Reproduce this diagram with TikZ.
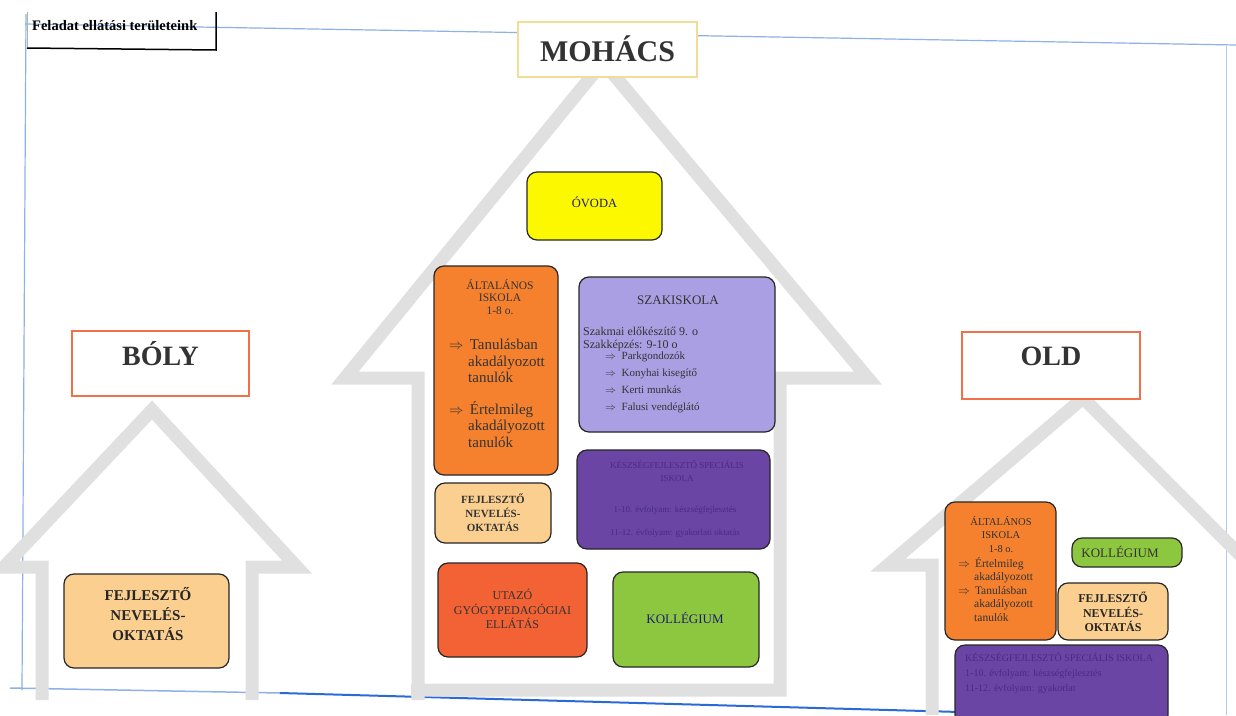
\documentclass[tikz,border=0pt]{standalone}
\usepackage{fontspec}
\setmainfont{Liberation Serif}
\definecolor{houseg}{HTML}{E0E0E0}
\definecolor{frameb}{HTML}{8FB2E4}
\definecolor{frameB}{HTML}{2A6AD8}
\definecolor{orangeA}{HTML}{F5812F}
\definecolor{lavA}{HTML}{AA9FE3}
\definecolor{purpA}{HTML}{6B45A3}
\definecolor{purpT}{HTML}{4A2A86}
\definecolor{peachA}{HTML}{FBCF8F}
\definecolor{redA}{HTML}{F26235}
\definecolor{greenA}{HTML}{8DC63F}
\definecolor{yellowA}{HTML}{FCF800}
\definecolor{navyT}{HTML}{1C1C70}
\definecolor{txtG}{HTML}{333333}
\definecolor{redB}{HTML}{F07048}
\definecolor{yelB}{HTML}{F2DC98}
\begin{document}
\begin{tikzpicture}[x=1pt,y=-1pt,
  house/.style={draw=houseg,line width=13pt,line join=miter},
  rbox/.style={draw=black!85,line width=1.2pt,rounded corners=10pt,inner sep=0pt},
  citybox/.style={draw=redB,line width=2pt,fill=white,inner sep=0pt},
  citytext/.style={font=\fontsize{28}{30}\selectfont\bfseries,text=black!80},
  smalltext/.style={inner sep=0pt,text=txtG,align=center},
  listtext/.style={inner sep=0pt,text=txtG,align=left,anchor=north west}
]
\useasboundingbox (0,0) rectangle (1236,715);
\fill[white] (0,0) rectangle (1236,715);
% frame of the page
\draw[frameb,line width=1.2pt] (25,24) -- (1236,45);
\draw[frameb,line width=1.2pt] (26,14) -- (22,690);
\draw[frameb!70,line width=1pt] (1226,46) -- (1226,715);
\draw[frameb,line width=1.5pt] (10,688) -- (280,693);
\draw[frameB,line width=2pt] (280,693) -- (960,712);
% houses
\draw[house] (418,700) -- (418,378) -- (345,378) -- (603,62) -- (868,378) -- (780,378) -- (780,690) -- (411,690);
\draw[house] (42,700) -- (42,567) -- (4,567) -- (152,410) -- (297,567) -- (252,567) -- (252,700);
\draw[house] (932,715) -- (932,565) -- (888,565) -- (1083,398) -- (1250,565);
% title box
\coordinate (tbnw) at (27,12);
\coordinate (tbne) at (216,12);
\coordinate (tbse) at (216,50);
\coordinate (tbsw) at (27,48);
\draw[black!30,line width=0.8pt] (tbnw) -- (tbsw);
\draw[black,line width=1.5pt] (tbne) -- (tbse) -- (tbsw);
\node[anchor=west,inner sep=0pt,font=\fontsize{14.5}{16}\selectfont\bfseries] (tt) at (32,26) {Feladat ellátási területeink};
% city boxes
\node[draw=yelB,line width=2pt,fill=white,minimum width=179pt,minimum height=55pt,inner sep=0pt] (moh) at (607.5,49.5) {};
\node[citytext,font=\fontsize{30}{32}\selectfont\bfseries] (moht) at (607.5,49) {MOHÁCS};
\node[citybox,minimum width=177pt,minimum height=65pt] (boly) at (160.5,363.5) {};
\node[citytext] (bolyt) at (160.5,354) {BÓLY};
\node[citybox,minimum width=178pt,minimum height=67pt] (old) at (1051,365.5) {};
\node[citytext] (oldt) at (1051,356) {OLD};
% Mohacs boxes
\node[rbox,fill=yellowA,minimum width=135pt,minimum height=68pt] (ovoda) at (594.5,206) {};
\node[smalltext,text=navyT,font=\fontsize{12.5}{14}\selectfont] (ovodat) at (594.5,202) {ÓVODA};

\node[rbox,fill=orangeA,minimum width=124pt,minimum height=209pt] (mai) at (496,370.5) {};
\node[smalltext,font=\fontsize{11.5}{12.5}\selectfont,anchor=north] (maih) at (500,279) {ÁLTALÁNOS\\ISKOLA\\1-8 o.};
\node[listtext,font=\fontsize{15}{16.5}\selectfont] (mail) at (449,339) {$\Rightarrow$\ \,Tanulásban\\\hspace*{19pt}akadályozott\\\hspace*{19pt}tanulók\\[15pt]$\Rightarrow$\ \,Értelmileg\\\hspace*{19pt}akadályozott\\\hspace*{19pt}tanulók};

\node[rbox,fill=lavA,minimum width=196pt,minimum height=155pt] (szak) at (677,354.5) {};
\node[smalltext,font=\fontsize{13}{15}\selectfont] (szakh) at (678,300) {SZAKISKOLA};
\node[listtext,font=\fontsize{12}{12.5}\selectfont] (szakl) at (583,327) {Szakmai előkészítő 9. o\\Szakképzés: 9-10 o};
\node[listtext,font=\fontsize{11}{17}\selectfont] (szakm) at (605,352) {$\Rightarrow$\ \ Parkgondozók\\$\Rightarrow$\ \ Konyhai kisegítő\\$\Rightarrow$\ \ Kerti munkás\\$\Rightarrow$\ \ Falusi vendéglátó};

\node[rbox,fill=purpA,minimum width=193pt,minimum height=99pt] (mpur) at (673.5,499.5) {};
\node[smalltext,text=purpT,font=\fontsize{9}{13}\selectfont] (mpurh) at (677,471) {KÉSZSÉGFEJLESZTŐ SPECIÁLIS\\ISKOLA};
\node[smalltext,text=purpT,font=\fontsize{9}{23}\selectfont] (mpurl) at (675,522) {1-10. évfolyam: készségfejlesztés\\11-12. évfolyam: gyakorlati oktatás};

\node[rbox,fill=peachA,minimum width=116pt,minimum height=60pt] (mfej) at (493,513) {};
\node[smalltext,font=\fontsize{11}{14}\selectfont\bfseries] (mfejt) at (493,513) {FEJLESZTŐ\\NEVELÉS-\\OKTATÁS};

\node[rbox,fill=redA,minimum width=149pt,minimum height=94pt] (utazo) at (512.5,610) {};
\node[smalltext,font=\fontsize{12}{14.5}\selectfont] (utazot) at (512.5,609) {UTAZÓ\\GYÓGYPEDAGÓGIAI\\ELLÁTÁS};

\node[rbox,fill=greenA,minimum width=146pt,minimum height=95pt] (koll) at (686,619.5) {};
\node[smalltext,text=navyT,font=\fontsize{13}{15}\selectfont] (kollt) at (685,618) {KOLLÉGIUM};

% Boly box
\node[rbox,fill=peachA,minimum width=165pt,minimum height=94pt] (bfej) at (146.5,621) {};
\node[smalltext,text=black!85,font=\fontsize{15}{20}\selectfont\bfseries] (bfejt) at (148,614) {FEJLESZTŐ\\NEVELÉS-\\OKTATÁS};

% Old boxes
\node[rbox,fill=orangeA,minimum width=111pt,minimum height=138pt] (oai) at (1000.5,571) {};
\node[smalltext,font=\fontsize{10.5}{13.5}\selectfont,anchor=north] (oaih) at (1001,516) {ÁLTALÁNOS\\ISKOLA\\1-8 o.};
\node[listtext,font=\fontsize{11.5}{13.5}\selectfont] (oail) at (958,557) {$\Rightarrow$\ \,Értelmileg\\\hspace*{16pt}akadályozott\\$\Rightarrow$\ \,Tanulásban\\\hspace*{16pt}akadályozott\\\hspace*{16pt}tanulók};

\node[rbox,fill=greenA,minimum width=110pt,minimum height=29pt] (okoll) at (1127,552.5) {};
\node[smalltext,font=\fontsize{13}{15}\selectfont] (okollt) at (1120,552) {KOLLÉGIUM};

\node[rbox,fill=peachA,minimum width=110pt,minimum height=57pt] (ofej) at (1113,611.5) {};
\node[smalltext,text=black!85,font=\fontsize{12}{14.5}\selectfont\bfseries] (ofejt) at (1113,612) {FEJLESZTŐ\\NEVELÉS-\\OKTATÁS};

\node[rbox,fill=purpA,minimum width=213pt,minimum height=80pt] (opur) at (1061.5,685) {};
\node[listtext,text=purpT,font=\fontsize{10}{15}\selectfont] (opurt) at (965,653) {KÉSZSÉGFEJLESZTŐ SPECIÁLIS ISKOLA\\1-10. évfolyam: készségfejlesztés\\11-12. évfolyam: gyakorlat};
\end{tikzpicture}
\end{document}
